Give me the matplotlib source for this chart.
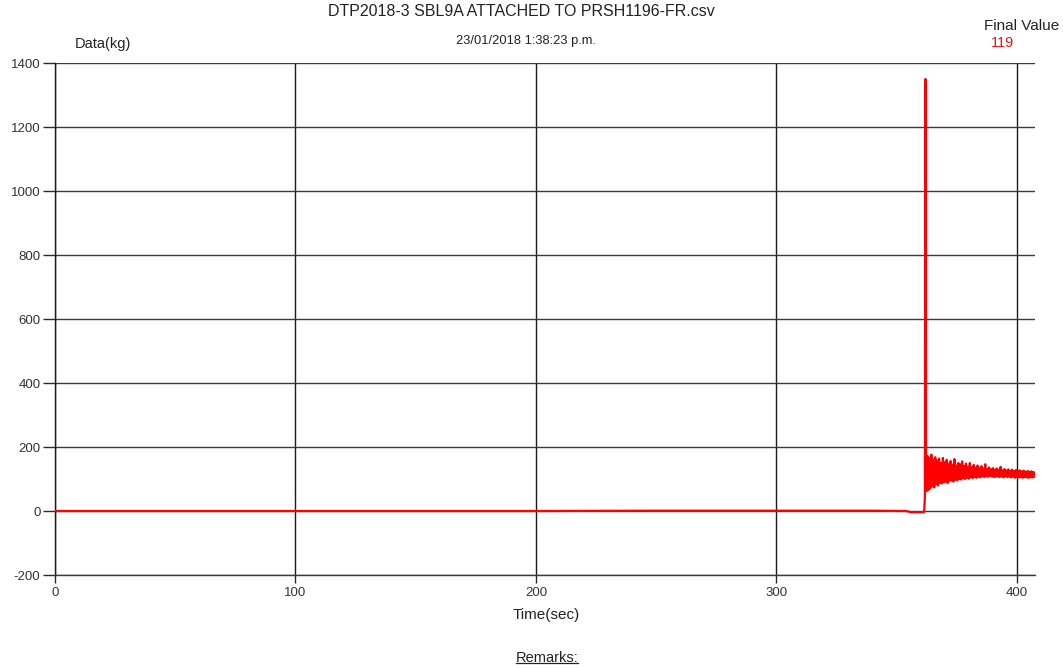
import matplotlib
matplotlib.use("Agg")
import matplotlib.pyplot as plt

# Load-cell record: time (s) and load (kg)
time_base = [0, 50, 100, 150, 200, 250, 300, 340, 354, 356, 360, 361.4]
load_base = [0, 0, 0, 0, 0, 1, 1, 1, 0, -4, -4, -3]

time_spike = [361.7, 361.95, 362.15]
load_spike = [40, 1350, 185]

time_tail = [
    362.4, 362.8, 363.2, 363.6, 364.0, 364.4, 364.8, 365.2, 365.6, 366.0,
    366.4, 366.8, 367.2, 367.6, 368.0, 368.4, 368.8, 369.2, 369.6, 370.0,
    370.4, 370.8, 371.2, 371.6, 372.0, 372.4, 372.8, 373.2, 373.6, 374.0,
    374.4, 374.8, 375.2, 375.6, 376.0, 376.4, 376.8, 377.2, 377.6, 378.0,
    378.4, 378.8, 379.2, 379.6, 380.0, 380.4, 380.8, 381.2, 381.6, 382.0,
    382.4, 382.8, 383.2, 383.6, 384.0, 384.4, 384.8, 385.2, 385.6, 386.0,
    386.4, 386.8, 387.2, 387.6, 388.0, 388.4, 388.8, 389.2, 389.6, 390.0,
    390.4, 390.8, 391.2, 391.6, 392.0, 392.4, 392.8, 393.2, 393.6, 394.0,
    394.4, 394.8, 395.2, 395.6, 396.0, 396.4, 396.8, 397.2, 397.6, 398.0,
    398.4, 398.8, 399.2, 399.6, 400.0, 400.4, 400.8, 401.2, 401.6, 402.0,
    402.4, 402.8, 403.2, 403.6, 404.0, 404.4, 404.8, 405.2, 405.6, 406.0,
    406.4, 406.8, 407.2, 407.5,
]
load_tail = [
    62, 172, 66, 165, 72, 176, 78, 160, 74, 168,
    84, 158, 80, 164, 88, 150, 86, 166, 90, 152,
    92, 160, 88, 148, 94, 156, 96, 145, 92, 162,
    98, 142, 96, 150, 100, 146, 98, 155, 102, 140,
    100, 148, 104, 138, 101, 150, 105, 136, 103, 144,
    106, 135, 104, 142, 107, 134, 105, 140, 108, 132,
    106, 146, 108, 131, 107, 136, 109, 130, 108, 134,
    106, 129, 107, 133, 108, 128, 106, 138, 108, 127,
    105, 131, 108, 126, 106, 130, 107, 126, 105, 129,
    107, 125, 104, 128, 106, 124, 105, 127, 106, 124,
    104, 126, 106, 123, 105, 125, 104, 123, 106, 124,
    105, 122, 107, 119,
]

final_value = load_tail[-1]

x_ticks = [0, 100, 200, 300, 400]
y_ticks = [-200, 0, 200, 400, 600, 800, 1000, 1200, 1400]

time = time_base + time_spike + time_tail
load = load_base + load_spike + load_tail

plt.rcParams["font.family"] = ["Liberation Sans", "DejaVu Sans"]
plt.rcParams["axes.unicode_minus"] = False

fig = plt.figure(figsize=(10.63, 6.68), dpi=100)
ax = fig.add_axes([55 / 1063, 1 - 575 / 668, (1035 - 55) / 1063, (575 - 63) / 668])

ax.plot(time, load, color="#ff0000", lw=1.6, zorder=3)

ax.set_xlim(0, 407.5)
ax.set_ylim(-200, 1400)
ax.set_xticks(x_ticks)
ax.set_yticks(y_ticks)
ax.xaxis.grid(True, color="#1a1a1a", lw=1.0)
ax.yaxis.grid(True, color="#3a3a3a", lw=1.0)
ax.set_axisbelow(True)

for side in ("top", "right"):
    ax.spines[side].set_visible(False)
ax.spines["left"].set_color("#1a1a1a")
ax.spines["bottom"].set_color("#3a3a3a")
for side in ("left", "bottom"):
    ax.spines[side].set_linewidth(1.0)

ax.tick_params(axis="both", colors="#2a2a2a", labelcolor="#333333",
               labelsize=9.5, width=1.0)
ax.tick_params(axis="y", length=8.5, pad=2)
ax.tick_params(axis="x", length=6, pad=3)

fig.text(521 / 1063, 1 - 12 / 668, "DTP2018-3 SBL9A ATTACHED TO PRSH1196-FR.csv",
         ha="center", va="center", fontsize=11.5, color="#222222")
fig.text(526 / 1063, 1 - 41 / 668, "23/01/2018 1:38:23 p.m.",
         ha="center", va="center", fontsize=9.3, color="#222222")
fig.text(103 / 1063, 1 - 44 / 668, "Data(kg)",
         ha="center", va="center", fontsize=10.5, color="#222222")
fig.text(1022 / 1063, 1 - 26 / 668, "Final Value",
         ha="center", va="center", fontsize=11, color="#222222")
fig.text(1002 / 1063, 1 - 43 / 668, f"{final_value}",
         ha="center", va="center", fontsize=10.5, color="#ee1111")
fig.text(546 / 1063, 1 - 615 / 668, "Time(sec)",
         ha="center", va="center", fontsize=11, color="#222222")
remarks = fig.text(547 / 1063, 1 - 658 / 668, "Remarks:",
                   ha="center", va="center", fontsize=10.5, color="#222222")

fig.canvas.draw()
bb = remarks.get_window_extent()
inv = fig.transFigure.inverted()
(x0, y0), (x1, _) = inv.transform([(bb.x0, bb.y0), (bb.x1, bb.y1)])
fig.add_artist(plt.Line2D([x0, x1], [y0 + 0.003, y0 + 0.003],
                          transform=fig.transFigure, color="#222222", lw=0.9))

fig.savefig("out.png", dpi=100)
